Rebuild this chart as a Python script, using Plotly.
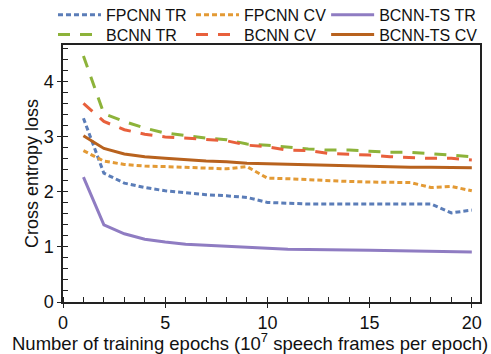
import plotly.graph_objects as go

epochs = list(range(1, 21))
fpcnn_tr = [3.34, 2.34, 2.16, 2.08, 2.02, 1.98, 1.95, 1.93, 1.90, 1.81,
            1.79, 1.78, 1.78, 1.78, 1.77, 1.77, 1.77, 1.78, 1.62, 1.67]
fpcnn_cv = [2.75, 2.56, 2.50, 2.47, 2.46, 2.45, 2.43, 2.42, 2.46, 2.25,
            2.24, 2.22, 2.20, 2.19, 2.18, 2.17, 2.17, 2.08, 2.10, 2.02]
bcnnts_tr = [2.27, 1.40, 1.24, 1.14, 1.09, 1.05, 1.03, 1.01, 0.99, 0.97,
             0.96, 0.955, 0.945, 0.945, 0.94, 0.935, 0.93, 0.925, 0.92, 0.91]
bcnn_tr = [4.47, 3.42, 3.28, 3.16, 3.07, 3.02, 2.98, 2.95, 2.87, 2.85,
           2.81, 2.78, 2.76, 2.76, 2.74, 2.72, 2.72, 2.70, 2.67, 2.64]
bcnn_cv = [3.61, 3.28, 3.13, 3.05, 3.00, 2.98, 2.96, 2.93, 2.85, 2.82,
           2.76, 2.75, 2.70, 2.69, 2.67, 2.64, 2.62, 2.61, 2.61, 2.58]
bcnnts_cv = [3.02, 2.79, 2.69, 2.64, 2.61, 2.58, 2.56, 2.55, 2.52, 2.51,
             2.50, 2.49, 2.48, 2.47, 2.46, 2.46, 2.45, 2.45, 2.44, 2.44]

x_title = "Number of training epochs (10<sup>7</sup> speech frames per epoch)"
y_title = "Cross entropy loss"

# (name, values, colour, dash, legend id)
series = [
    ("FPCNN TR", fpcnn_tr, "#5B7DB8", "5px,3px", "legend"),
    ("FPCNN CV", fpcnn_cv, "#E39A35", "5px,3px", "legend2"),
    ("BCNN-TS TR", bcnnts_tr, "#8F7CC2", "solid", "legend3"),
    ("BCNN TR", bcnn_tr, "#8DB33A", "12px,10px", "legend4"),
    ("BCNN CV", bcnn_cv, "#E8603C", "12px,10px", "legend5"),
    ("BCNN-TS CV", bcnnts_cv, "#B8621E", "solid", "legend6"),
]

fig = go.Figure()
for name, vals, col, dash, lg in series:
    fig.add_trace(go.Scatter(x=epochs, y=vals, name=name, mode="lines", legend=lg,
                             line=dict(color=col, width=3, dash=dash)))

font = "Liberation Sans, Arial, sans-serif"
leg_common = dict(orientation="v", xanchor="left", yanchor="top",
                  itemwidth=43, font=dict(size=16), bgcolor="rgba(0,0,0,0)",
                  traceorder="normal")
col_x = [-0.024, 0.307, 0.631]
row_y = [1.183, 1.107]
legends = {}
for i, key in enumerate(["legend", "legend2", "legend3", "legend4", "legend5", "legend6"]):
    legends[key] = dict(x=col_x[i % 3], y=row_y[i // 3], **leg_common)

fig.update_layout(
    width=491, height=354,
    margin=dict(l=63, r=11, t=45, b=52, autoexpand=False),
    paper_bgcolor="white", plot_bgcolor="white",
    font=dict(family=font, size=18, color="#111"),
    showlegend=True,
    xaxis=dict(range=[0, 20.4], tickvals=[0, 5, 10, 15, 20], showgrid=False,
               zeroline=False, showline=True, linecolor="#222", linewidth=1.5,
               mirror=True, ticks="outside", ticklen=4, tickcolor="#222",
               minor=dict(dtick=1, ticks="inside", ticklen=5, tickcolor="#222", showgrid=False)),
    yaxis=dict(range=[0, 4.67], tickvals=[0, 1, 2, 3, 4], showgrid=False,
               zeroline=False, showline=True, linecolor="#222", linewidth=1.5,
               mirror=True, ticks="outside", ticklen=4, tickcolor="#222",
               minor=dict(dtick=0.2, ticks="inside", ticklen=5, tickcolor="#222", showgrid=False),
               title=dict(text=y_title, standoff=0, font=dict(size=18))),
    annotations=[dict(text=x_title, xref="paper", yref="paper",
                      x=(250 - 63) / 417, y=(302 - 342.5) / 257,
                      xanchor="center", yanchor="middle", showarrow=False,
                      font=dict(size=18.5))],
    **legends,
)

fig.write_html("out.html")
